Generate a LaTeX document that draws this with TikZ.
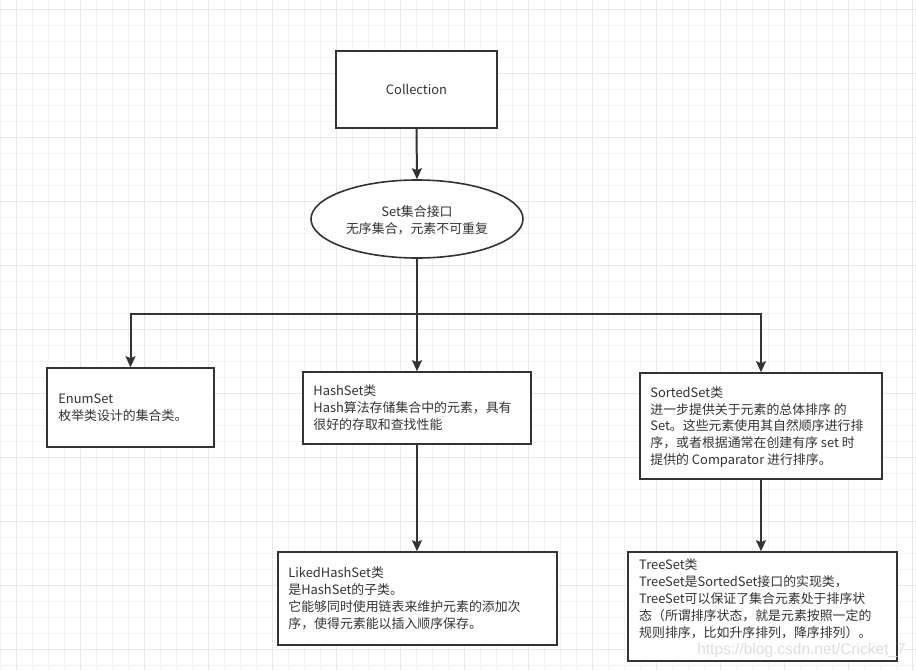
\documentclass[tikz,border=0pt]{standalone}
\usepackage{fontspec}
\setmainfont{Noto Sans CJK SC}
\newfontfamily\wmfont{Liberation Sans}
\usetikzlibrary{arrows.meta,shapes.geometric}
\definecolor{ink}{HTML}{333333}
\definecolor{gridminor}{HTML}{F3F3F3}
\definecolor{gridmajor}{HTML}{E8E8E8}
\tikzset{
  box/.style={draw=ink, line width=1.6pt, fill=white, rectangle, inner sep=0pt},
  oval/.style={draw=ink, line width=1.6pt, fill=white, ellipse, inner sep=0pt},
  txt/.style={inner sep=0pt, align=left, text=ink, font=\fontsize{12.9}{16.9}\selectfont},
  ctxt/.style={inner sep=0pt, align=center, text=ink, font=\fontsize{12.9}{16.9}\selectfont},
  link/.style={draw=ink, line width=2pt},
  arr/.style={link, -{Stealth[length=11pt,width=10pt,inset=2pt]}},
}
\begin{document}
\begin{tikzpicture}[x=1pt,y=-1pt]
\useasboundingbox (0,0) rectangle (916,670);
\fill[white] (0,0) rectangle (916,670);
% grid
\foreach \gx in {0,16,...,912} {\draw[gridminor, line width=1pt] (\gx,0) -- (\gx,670);}
\foreach \gy in {9,25,...,665} {\draw[gridminor, line width=1pt] (0,\gy) -- (916,\gy);}
\foreach \gx in {16,80,...,912} {\draw[gridmajor, line width=1pt] (\gx,0) -- (\gx,670);}
\foreach \gy in {9,73,...,665} {\draw[gridmajor, line width=1pt] (0,\gy) -- (916,\gy);}

% nodes
\node[box, minimum width=161pt, minimum height=77pt] (coll) at (416.5,89.5) {};
\node[ctxt] (collt) at (coll.center) {Collection};

\node[oval, minimum width=212pt, minimum height=78pt] (set) at (417,219) {};
\node[ctxt] (sett) at (417,220) {Set集合接口\\无序集合，元素不可重复};

\node[box, minimum width=167pt, minimum height=79pt] (enum) at (130.5,407.5) {};
\node[txt, anchor=west] (enumt) at ([xshift=12pt]enum.west) {EnumSet\\枚举类设计的集合类。};

\node[box, minimum width=228pt, minimum height=72pt] (hash) at (417,408) {};
\node[txt, anchor=west] (hasht) at ([xshift=11pt]hash.west) {HashSet类\\Hash算法存储集合中的元素，具有\\很好的存取和查找性能};

\node[box, minimum width=242pt, minimum height=106pt] (sorted) at (761,426) {};
\node[txt, anchor=west] (sortedt) at ([xshift=11pt,yshift=-1pt]sorted.west) {SortedSet类\\进一步提供关于元素的总体排序\ 的\\Set。这些元素使用其自然顺序进行排\\序，或者根据通常在创建有序 set 时\\提供的 Comparator 进行排序。};

\node[box, minimum width=279pt, minimum height=93pt] (liked) at (417.5,598.5) {};
\node[txt, anchor=west] (likedt) at ([xshift=11pt]liked.west) {LikedHashSet类\\是HashSet的子类。\\它能够同时使用链表来维护元素的添加次\\序，使得元素能以插入顺序保存。};

\node[box, minimum width=269pt, minimum height=109pt] (tree) at (762.5,606.5) {};
\node[txt, anchor=west] (treet) at (639,599) {TreeSet类\\TreeSet是SortedSet接口的实现类，\\TreeSet可以保证了集合元素处于排序状\\态（所谓排序状态，就是元素按照一定的\\规则排序，比如升序排列，降序排列）。};

% connectors
\coordinate (junc) at (417,314);
\draw[arr] (coll.south) -- (set.north);
\draw[link] (set.south) -- (junc);
\draw[arr] (junc) -| (enum.north);
\draw[arr] (junc) -- (hash.north);
\draw[arr] (junc) -| (sorted.north);
\draw[arr] (hash.south) -- (hash.south |- liked.north);
\draw[arr] (sorted.south) -- (sorted.south |- tree.north);

% watermark
\node[inner sep=0pt, anchor=east, text=black!13, font=\wmfont\fontsize{15.5}{18}\selectfont] (wm) at (906,650) {https://blog.csdn.net/Cricket\_7};
\end{tikzpicture}
\end{document}
